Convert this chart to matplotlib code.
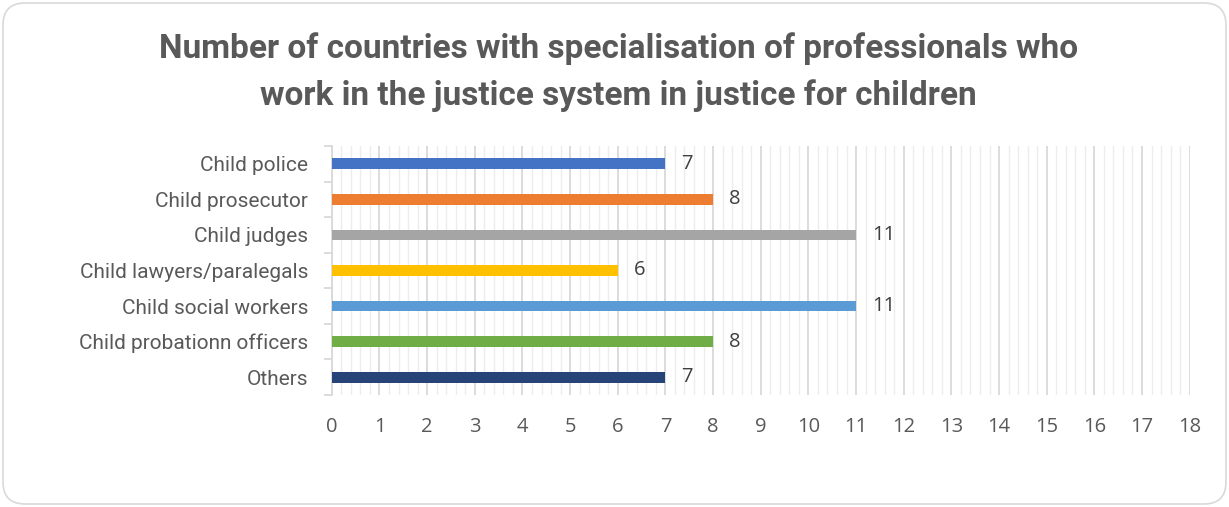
import matplotlib.pyplot as plt
from matplotlib.patches import FancyBboxPatch
from matplotlib.ticker import MultipleLocator

categories = ["Child police", "Child prosecutor", "Child judges", "Child lawyers/paralegals",
              "Child social workers", "Child probationn officers", "Others"]
values = [7, 8, 11, 6, 11, 8, 7]
colors = ["#4472C4", "#ED7D31", "#A5A5A5", "#FFC000", "#5B9BD5", "#70AD47", "#264478"]

label_font = "Roboto"
num_font = "Open Sans"

fig = plt.figure(figsize=(12.29, 5.07), dpi=100)
ax = fig.add_axes([0.270, 0.221, 0.698, 0.491])

# rounded chart-area border, in inches
border = FancyBboxPatch((0.03, 0.03), 12.23, 5.01, boxstyle="round,pad=0,rounding_size=0.22",
                        transform=fig.dpi_scale_trans, facecolor="white", edgecolor="#D9D9D9",
                        linewidth=1.2, zorder=-10)
fig.patches.append(border)

y = list(range(len(categories)))[::-1]
ax.barh(y, values, height=0.3, color=colors, zorder=3)
for yi, v in zip(y, values):
    ax.text(v + 0.33, yi, str(v), va="center", ha="left", fontsize=14.5,
            color="#404040", family=num_font)

ax.set_xlim(0, 18)
ax.set_ylim(-0.5, len(categories) - 0.5)
ax.xaxis.set_major_locator(MultipleLocator(1))
ax.xaxis.set_minor_locator(MultipleLocator(0.2))
ax.grid(axis="x", which="major", color="#D9D9D9", linewidth=1.3, zorder=0)
ax.grid(axis="x", which="minor", color="#EDEDED", linewidth=1.0, zorder=0)
ax.set_axisbelow(True)

ax.set_yticks(y)
ax.set_yticklabels(categories, family=label_font, fontsize=15, color="#595959")
ax.set_yticks([i - 0.5 for i in range(len(categories) + 1)], minor=True)
ax.tick_params(axis="y", which="major", length=0, pad=17)
ax.tick_params(axis="y", which="minor", length=6, color="#D9D9D9", width=1.3)
ax.tick_params(axis="x", which="both", length=0, pad=16)
for lab in ax.get_xticklabels():
    lab.set_family(num_font)
    lab.set_fontsize(14.5)
    lab.set_color("#595959")

for s in ["top", "right", "bottom"]:
    ax.spines[s].set_visible(False)
ax.spines["left"].set_color("#D9D9D9")
ax.spines["left"].set_linewidth(1.3)

fig.text(0.503, 0.857, "Number of countries with specialisation of professionals who\nwork in the justice system in justice for children",
         ha="center", va="center", fontsize=24, fontweight="bold", color="#595959",
         family=label_font, linespacing=1.55)

fig.savefig("out.png", dpi=100)
